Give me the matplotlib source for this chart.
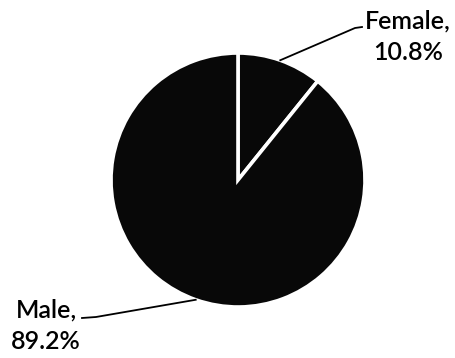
import numpy as np
import matplotlib
matplotlib.use('Agg')
import matplotlib.pyplot as plt

# gender split
labels = ['Female', 'Male']
shares = [10.8, 89.2]

# label centres, leader knee and leader end (axes units = pixels)
label_pos = [(408, 321), (46, 32)]
knee_pos = [(355, 330), (96, 41)]
end_pos = [(362, 331), (82, 40)]

fig = plt.figure(figsize=(4.55, 3.58), dpi=100)
ax = fig.add_axes([0, 0, 1, 1])

cx, cy, r = 238, 178, 127
wedges, _ = ax.pie(shares, center=(cx, cy), radius=r, startangle=90,
                   counterclock=False, colors=['#080808', '#080808'],
                   wedgeprops=dict(edgecolor='white', linewidth=2.6))
ax.set_xlim(0, 455)
ax.set_ylim(0, 358)
ax.set_aspect('equal')
ax.axis('off')

for w, lab, val, (tx, ty), (kx, ky), (ex, ey) in zip(wedges, labels, shares,
                                                     label_pos, knee_pos, end_pos):
    mid = np.deg2rad((w.theta1 + w.theta2) / 2)
    sx, sy = cx + r * np.cos(mid), cy + r * np.sin(mid)
    ax.plot([sx, kx, ex], [sy, ky, ey], color='black', lw=1.3)
    ax.text(tx, ty, f'{lab},\n{val}%', ha='center', va='center',
            fontsize=18, family='Lato', fontweight='semibold',
            linespacing=1.45, color='black')

fig.savefig('out.png', dpi=100)
